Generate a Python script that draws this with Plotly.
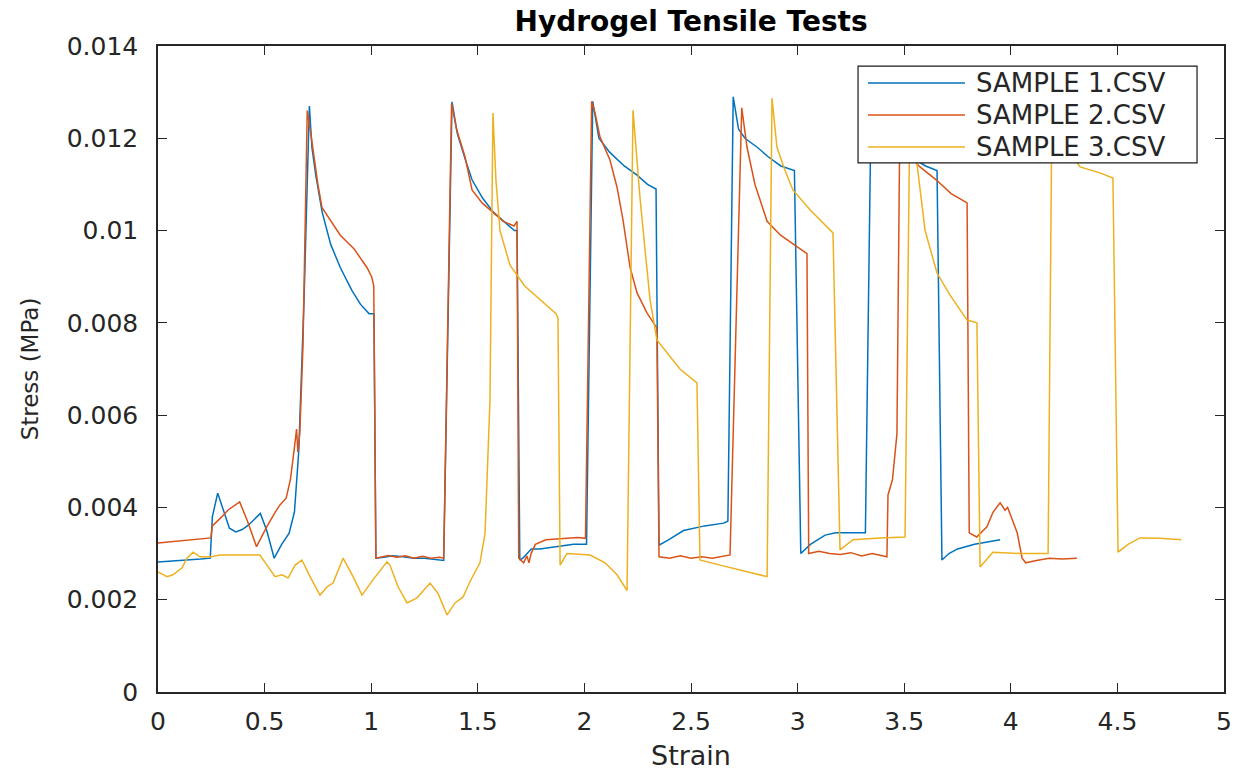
import plotly.graph_objects as go

# ---------------- data ----------------
series_names = ["SAMPLE 1.CSV", "SAMPLE 2.CSV", "SAMPLE 3.CSV"]

strain_1 = [0.000, 0.040, 0.090, 0.150, 0.200, 0.245, 0.255, 0.280, 0.305, 0.335,
            0.365, 0.395, 0.425, 0.455, 0.480, 0.510, 0.545, 0.580, 0.615, 0.640,
            0.660, 0.685, 0.710, 0.722, 0.740, 0.770, 0.810, 0.855, 0.910, 0.950,
            0.990, 1.013, 1.022, 1.060, 1.100, 1.150, 1.200, 1.250, 1.300, 1.340,
            1.379, 1.404, 1.444, 1.473, 1.523, 1.573, 1.622, 1.672, 1.684, 1.697,
            1.711, 1.751, 1.791, 1.870, 1.949, 2.010, 2.039, 2.068, 2.118, 2.187,
            2.247, 2.296, 2.336, 2.350, 2.396, 2.465, 2.564, 2.653, 2.673, 2.698,
            2.723, 2.753, 2.812, 2.862, 2.921, 2.985, 3.015, 3.060, 3.129, 3.179,
            3.318, 3.345, 3.380, 3.450, 3.530, 3.600, 3.654, 3.677, 3.710, 3.750,
            3.830, 3.950]
stress_1 = [0.00282, 0.00283, 0.00284, 0.00286, 0.00288, 0.00290, 0.00380, 0.00431, 0.00395, 0.00355,
            0.00347, 0.00352, 0.00362, 0.00375, 0.00387, 0.00350, 0.00290, 0.00320, 0.00344, 0.00390,
            0.00520, 0.00850, 0.01270, 0.01180, 0.01120, 0.01040, 0.00970, 0.00920, 0.00870, 0.00840,
            0.00820, 0.00820, 0.00290, 0.00292, 0.00295, 0.00293, 0.00290, 0.00290, 0.00287, 0.00285,
            0.01279, 0.01210, 0.01150, 0.01110, 0.01070, 0.01040, 0.01020, 0.01000, 0.01000, 0.00286,
            0.00290, 0.00310, 0.00310, 0.00315, 0.00320, 0.00320, 0.01280, 0.01200, 0.01170, 0.01140,
            0.01120, 0.01100, 0.01090, 0.00318, 0.00330, 0.00350, 0.00360, 0.00366, 0.00370, 0.01290,
            0.01220, 0.01200, 0.01180, 0.01160, 0.01140, 0.01130, 0.00300, 0.00320, 0.00340, 0.00345,
            0.00345, 0.01280, 0.01210, 0.01180, 0.01160, 0.01140, 0.01130, 0.00286, 0.00300, 0.00310,
            0.00320, 0.00330]

strain_2 = [0.000, 0.050, 0.100, 0.150, 0.200, 0.248, 0.255, 0.270, 0.300, 0.330,
            0.383, 0.420, 0.462, 0.490, 0.510, 0.550, 0.571, 0.601, 0.621, 0.640,
            0.650, 0.656, 0.665, 0.680, 0.700, 0.720, 0.750, 0.769, 0.810, 0.855,
            0.920, 0.980, 1.002, 1.012, 1.022, 1.050, 1.080, 1.120, 1.160, 1.200,
            1.240, 1.280, 1.320, 1.340, 1.377, 1.400, 1.440, 1.473, 1.520, 1.570,
            1.620, 1.670, 1.684, 1.692, 1.715, 1.730, 1.740, 1.750, 1.770, 1.820,
            1.900, 1.970, 2.005, 2.034, 2.050, 2.073, 2.120, 2.153, 2.181, 2.214,
            2.247, 2.294, 2.340, 2.350, 2.400, 2.450, 2.500, 2.550, 2.600, 2.650,
            2.683, 2.738, 2.763, 2.800, 2.857, 2.920, 2.980, 3.044, 3.052, 3.100,
            3.150, 3.200, 3.250, 3.300, 3.350, 3.419, 3.424, 3.445, 3.466, 3.480,
            3.495, 3.530, 3.574, 3.650, 3.720, 3.795, 3.805, 3.840, 3.888, 3.917,
            3.950, 3.973, 3.985, 4.030, 4.053, 4.070, 4.120, 4.180, 4.240, 4.310]
stress_2 = [0.00323, 0.00325, 0.00327, 0.00329, 0.00331, 0.00334, 0.00360, 0.00366, 0.00380, 0.00395,
            0.00412, 0.00370, 0.00315, 0.00340, 0.00358, 0.00390, 0.00405, 0.00420, 0.00460, 0.00530,
            0.00570, 0.00520, 0.00560, 0.00750, 0.01260, 0.01200, 0.01100, 0.01050, 0.01020, 0.00990,
            0.00960, 0.00920, 0.00900, 0.00880, 0.00290, 0.00293, 0.00296, 0.00292, 0.00295, 0.00290,
            0.00294, 0.00290, 0.00292, 0.00290, 0.01275, 0.01220, 0.01160, 0.01088, 0.01060, 0.01040,
            0.01020, 0.01010, 0.01020, 0.00290, 0.00280, 0.00295, 0.00280, 0.00300, 0.00320, 0.00330,
            0.00333, 0.00335, 0.00333, 0.01280, 0.01255, 0.01203, 0.01153, 0.01094, 0.01023, 0.00921,
            0.00865, 0.00821, 0.00789, 0.00293, 0.00290, 0.00295, 0.00290, 0.00293, 0.00290, 0.00295,
            0.00297, 0.01266, 0.01180, 0.01100, 0.01020, 0.00990, 0.00970, 0.00950, 0.00300, 0.00305,
            0.00300, 0.00298, 0.00302, 0.00295, 0.00300, 0.00293, 0.00427, 0.00460, 0.00560, 0.01260,
            0.01210, 0.01160, 0.01138, 0.01110, 0.01080, 0.01060, 0.00345, 0.00336, 0.00358, 0.00390,
            0.00410, 0.00394, 0.00400, 0.00345, 0.00290, 0.00280, 0.00285, 0.00290, 0.00288, 0.00290]

strain_3 = [0.000, 0.042, 0.070, 0.113, 0.136, 0.164, 0.197, 0.253, 0.290, 0.478,
            0.511, 0.549, 0.582, 0.610, 0.643, 0.675, 0.713, 0.760, 0.793, 0.821,
            0.868, 0.915, 0.957, 1.008, 1.074, 1.088, 1.126, 1.168, 1.215, 1.276,
            1.313, 1.356, 1.393, 1.431, 1.463, 1.510, 1.534, 1.557, 1.571, 1.585,
            1.604, 1.651, 1.720, 1.792, 1.867, 1.876, 1.886, 1.918, 2.026, 2.097,
            2.153, 2.200, 2.228, 2.247, 2.261, 2.284, 2.308, 2.340, 2.387, 2.448,
            2.528, 2.542, 2.636, 2.730, 2.857, 2.880, 2.903, 2.941, 2.978, 3.058,
            3.166, 3.199, 3.260, 3.386, 3.504, 3.527, 3.560, 3.598, 3.654, 3.715,
            3.795, 3.841, 3.856, 3.916, 4.043, 4.151, 4.175, 4.193, 4.230, 4.325,
            4.418, 4.479, 4.503, 4.550, 4.606, 4.700, 4.800]
stress_3 = [0.00260, 0.00250, 0.00254, 0.00269, 0.00290, 0.00303, 0.00293, 0.00293, 0.00297, 0.00297,
            0.00275, 0.00250, 0.00254, 0.00247, 0.00275, 0.00286, 0.00250, 0.00210, 0.00228, 0.00236,
            0.00290, 0.00250, 0.00210, 0.00243, 0.00282, 0.00275, 0.00228, 0.00193, 0.00204, 0.00236,
            0.00214, 0.00167, 0.00193, 0.00206, 0.00239, 0.00280, 0.00344, 0.00630, 0.01255, 0.01110,
            0.01000, 0.00925, 0.00880, 0.00850, 0.00820, 0.00810, 0.00275, 0.00300, 0.00297, 0.00280,
            0.00254, 0.00220, 0.01261, 0.01150, 0.01070, 0.00960, 0.00850, 0.00763, 0.00735, 0.00700,
            0.00670, 0.00286, 0.00275, 0.00264, 0.00250, 0.01287, 0.01181, 0.01130, 0.01088, 0.01045,
            0.00995, 0.00308, 0.00330, 0.00334, 0.00336, 0.01270, 0.01140, 0.01000, 0.00908, 0.00860,
            0.00806, 0.00800, 0.00271, 0.00303, 0.00300, 0.00300, 0.00300, 0.01270, 0.01200, 0.01138,
            0.01125, 0.01114, 0.00303, 0.00320, 0.00334, 0.00333, 0.00330]

x_ticks = [0, 0.5, 1, 1.5, 2, 2.5, 3, 3.5, 4, 4.5, 5]
x_tick_text = ["0", "0.5", "1", "1.5", "2", "2.5", "3", "3.5", "4", "4.5", "5"]
y_ticks = [0, 0.002, 0.004, 0.006, 0.008, 0.010, 0.012, 0.014]
y_tick_text = ["0", "0.002", "0.004", "0.006", "0.008", "0.01", "0.012", "0.014"]

colors = ["#0072BD", "#D95319", "#EDB120"]
FONT = "DejaVu Sans"
AX = "#262626"

fig = go.Figure()
for xs, ys, name, col in zip([strain_1, strain_2, strain_3],
                             [stress_1, stress_2, stress_3],
                             series_names, colors):
    fig.add_trace(go.Scatter(x=xs, y=ys, mode="lines", name=name,
                             line=dict(color=col, width=1.5),
                             showlegend=False))

# ---- MATLAB-style legend box (opaque, with long line samples) ----
lx0, lx1, ly0, ly1 = 0.6567, 0.9747, 0.819, 0.969
shapes = [dict(type="rect", xref="paper", yref="paper", x0=lx0, x1=lx1, y0=ly0, y1=ly1,
               fillcolor="white", line=dict(color="#1a1a1a", width=1.2), layer="above")]
annotations = []
row_y = [0.9427, 0.8932, 0.8437]
for name, col, ry in zip(series_names, colors, row_y):
    shapes.append(dict(type="line", xref="paper", yref="paper", x0=0.666, x1=0.757,
                       y0=ry, y1=ry, line=dict(color=col, width=1.5), layer="above"))
    annotations.append(dict(xref="paper", yref="paper", x=0.7655, y=ry, text=name,
                            xanchor="left", yanchor="middle", showarrow=False,
                            font=dict(family=FONT, size=26, color=AX)))

fig.update_layout(
    width=1244, height=771,
    margin=dict(l=158, r=20, t=46, b=79),
    paper_bgcolor="white", plot_bgcolor="white",
    title=dict(text="<b>Hydrogel Tensile Tests</b>", x=0.5555, xanchor="center",
               y=0.972, yanchor="middle", yref="container",
               font=dict(family=FONT, size=28, color="black")),
    shapes=shapes, annotations=annotations,
    font=dict(family=FONT, color=AX),
)
fig.update_xaxes(range=[0, 5], tickvals=x_ticks, ticktext=x_tick_text,
                 ticks="inside", ticklen=9, tickwidth=1.2, tickcolor=AX,
                 showline=True, linecolor=AX, linewidth=1.5, mirror="ticks",
                 showgrid=False, zeroline=False, automargin=False,
                 tickfont=dict(family=FONT, size=25, color=AX),
                 ticklabelstandoff=6,
                 title=dict(text="Strain", standoff=14,
                            font=dict(family=FONT, size=27, color=AX)))
fig.update_yaxes(range=[0, 0.014], tickvals=y_ticks, ticktext=y_tick_text,
                 ticks="inside", ticklen=9, tickwidth=1.2, tickcolor=AX,
                 showline=True, linecolor=AX, linewidth=1.5, mirror="ticks",
                 showgrid=False, zeroline=False, automargin=False,
                 tickfont=dict(family=FONT, size=25, color=AX),
                 ticklabelstandoff=13,
                 title=dict(text="Stress (MPa)", standoff=22,
                            font=dict(family=FONT, size=23, color=AX)))

fig.write_html("out.html")
